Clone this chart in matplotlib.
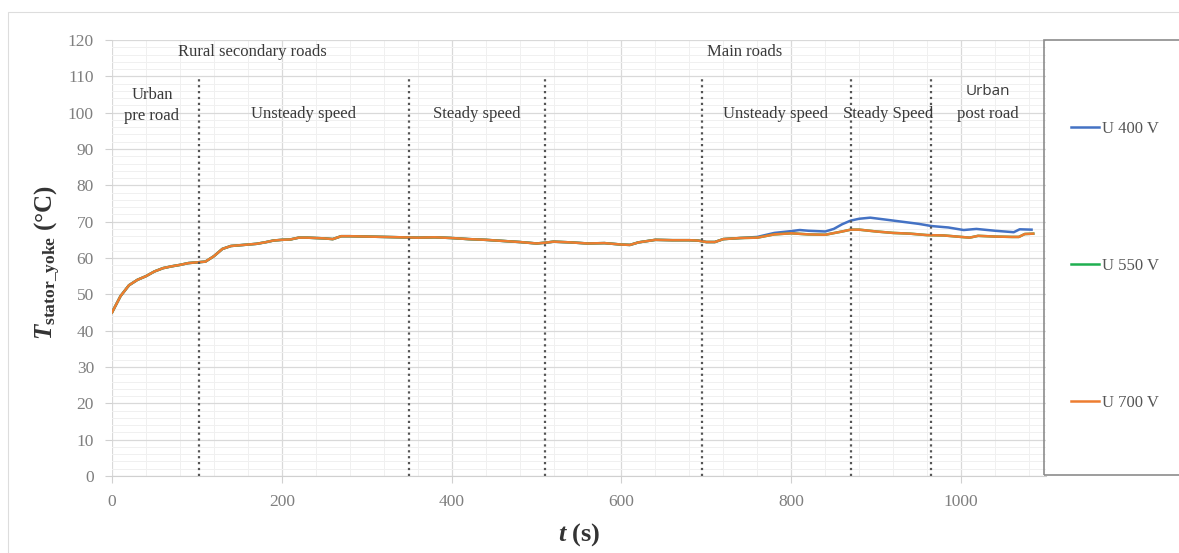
import numpy as np
import matplotlib.pyplot as plt
from matplotlib.patches import Rectangle
from matplotlib.ticker import MultipleLocator

# time (s) and stator yoke temperature (degC)
t_700 = [0, 10, 20, 30, 40, 50, 60, 70, 80, 90, 100, 110, 120, 130, 140, 150,
         160, 170, 180, 190, 200, 210, 220, 230, 240, 250, 260, 270, 280, 300,
         320, 340, 360, 380, 400, 420, 440, 460, 480, 500, 510, 520, 540, 560,
         580, 600, 610, 620, 640, 660, 680, 690, 700, 710, 720, 740, 760, 780,
         800, 820, 840, 860, 870, 880, 900, 920, 940, 960, 980, 1000, 1010,
         1020, 1040, 1060, 1068, 1075, 1085]
u_700 = [45.0, 49.5, 52.5, 54.0, 55.0, 56.3, 57.2, 57.7, 58.1, 58.6, 58.8, 59.0,
         60.5, 62.5, 63.3, 63.5, 63.7, 63.9, 64.3, 64.8, 65.0, 65.1, 65.6, 65.6,
         65.5, 65.4, 65.2, 66.0, 66.0, 65.9, 65.8, 65.7, 65.6, 65.7, 65.5, 65.2,
         65.0, 64.7, 64.4, 64.0, 64.2, 64.5, 64.3, 64.0, 64.1, 63.7, 63.6, 64.3,
         65.0, 64.9, 64.9, 64.8, 64.4, 64.4, 65.2, 65.5, 65.6, 66.5, 66.8, 66.5,
         66.4, 67.3, 67.8, 67.8, 67.3, 66.9, 66.7, 66.3, 66.2, 65.8, 65.6, 66.1,
         65.9, 65.8, 65.8, 66.6, 66.7]
u_550 = list(u_700)

t_400 = [0, 10, 20, 30, 40, 50, 60, 70, 80, 90, 100, 110, 120, 130, 140, 150,
         160, 170, 180, 190, 200, 210, 220, 230, 240, 250, 260, 270, 280, 300,
         320, 340, 360, 380, 400, 420, 440, 460, 480, 500, 510, 520, 540, 560,
         580, 600, 610, 620, 640, 660, 680, 690, 700, 710, 720, 740, 760, 780,
         800, 810, 820, 840, 850, 860, 870, 880, 893, 910, 930, 950, 965, 985,
         1003, 1018, 1040, 1062, 1069, 1083]
u_400 = [45.0, 49.5, 52.5, 54.0, 55.0, 56.3, 57.2, 57.7, 58.1, 58.6, 58.8, 59.0,
         60.5, 62.5, 63.3, 63.5, 63.7, 63.9, 64.3, 64.8, 65.0, 65.1, 65.6, 65.6,
         65.5, 65.4, 65.2, 66.0, 66.0, 65.9, 65.8, 65.7, 65.6, 65.7, 65.5, 65.2,
         65.0, 64.7, 64.4, 64.0, 64.2, 64.5, 64.3, 64.0, 64.1, 63.7, 63.6, 64.3,
         65.0, 64.9, 64.9, 64.8, 64.4, 64.4, 65.2, 65.5, 65.8, 66.9, 67.4, 67.7,
         67.5, 67.3, 68.0, 69.3, 70.3, 70.8, 71.1, 70.6, 70.0, 69.4, 68.8, 68.4,
         67.7, 68.0, 67.5, 67.1, 67.9, 67.8]

# phase boundaries (s) and phase labels
boundaries = [102, 350, 510, 695, 870, 965]
phase_text = ["Urban\npre road", "Unsteady speed", "Steady speed",
              "Unsteady speed", "Steady Speed", "post road"]
phase_x = [47, 226, 430, 781, 914, 1032]
group_text = ["Rural secondary roads", "Main roads"]
group_x = [165, 745]

plt.rcParams['font.family'] = ['Liberation Serif', 'DejaVu Serif']
plt.rcParams['mathtext.fontset'] = 'custom'
plt.rcParams['mathtext.rm'] = 'Liberation Serif:bold'
plt.rcParams['mathtext.it'] = 'Liberation Serif:italic:bold'

fig = plt.figure(figsize=(11.79, 5.53), dpi=100)
# outer chart frame
fig.patches.append(Rectangle((8 / 1179, -0.05), 1.2, 1 - 12 / 553 + 0.05,
                             transform=fig.transFigure, fill=False,
                             edgecolor='#DDDDDD', lw=0.8))
# legend frame
fig.patches.append(Rectangle((1044 / 1179, 1 - 475 / 553), 0.2, (475 - 40) / 553,
                             transform=fig.transFigure, fill=False,
                             edgecolor='#8C8C8C', lw=1.2))

ax = fig.add_axes([112 / 1179, 1 - 476 / 553, 934 / 1179, 436 / 553])

ax.plot(t_400, u_400, color='#4472C4', lw=1.8, label='U 400 V')
ax.plot(t_700, u_550, color='#1FAF50', lw=1.8, label='U 550 V')
ax.plot(t_700, u_700, color='#ED7D31', lw=1.8, label='U 700 V')

for b in boundaries:
    ax.plot([b, b], [0, 110], color='#555555', ls=':', lw=1.6)

txt_color = '#3A3A3A'
fs = 12
for x, s in zip(phase_x, phase_text):
    ax.text(x, 102 if "\n" in s else 99.6, s, ha='center', va='center',
            fontsize=fs, color=txt_color, linespacing=1.45)
# the "Urban" over "post road" is set in a sans font in the original
ax.text(phase_x[-1], 105.8, "Urban", ha='center', va='center', fontsize=11,
        color=txt_color, family=['Open Sans', 'DejaVu Sans'])
for x, s in zip(group_x, group_text):
    ax.text(x, 116.7, s, ha='center', va='center', fontsize=fs, color=txt_color)

ax.set_xlim(0, 1100)
ax.set_ylim(0, 120)
ax.xaxis.set_major_locator(MultipleLocator(200))
ax.xaxis.set_minor_locator(MultipleLocator(40))
ax.yaxis.set_major_locator(MultipleLocator(10))
ax.yaxis.set_minor_locator(MultipleLocator(2))
ax.set_xticks([0, 200, 400, 600, 800, 1000])
ax.grid(which='major', color='#D9D9D9', lw=0.9)
ax.grid(which='minor', color='#F0F0F0', lw=0.7)
ax.set_axisbelow(True)
for side in ['top', 'right', 'left']:
    ax.spines[side].set_visible(False)
ax.spines['bottom'].set_color('#D0D0D0')
ax.tick_params(which='major', length=5, color='#D0D0D0', labelcolor='#7F7F7F',
               labelsize=12.5, pad=8)
ax.tick_params(which='minor', length=0)

ax.set_xlabel(r"$t$ (s)", fontsize=19, color='#333333', fontweight='bold')
ax.xaxis.set_label_coords(0.5, -0.104)
ax.set_ylabel(r"$T_{\mathrm{stator\_yoke}}$ (°C)", fontsize=18, color='#333333',
              fontweight='bold')
ax.yaxis.set_label_coords(-0.052, 0.49)

leg = fig.legend(handles=ax.get_lines()[:3], loc='upper left',
                 bbox_to_anchor=(1056 / 1179, 1 - 106 / 553), frameon=False,
                 fontsize=12, labelspacing=7.26, handlelength=1.7,
                 handletextpad=0.15, labelcolor='#555555')

fig.savefig('out.png', dpi=100)
